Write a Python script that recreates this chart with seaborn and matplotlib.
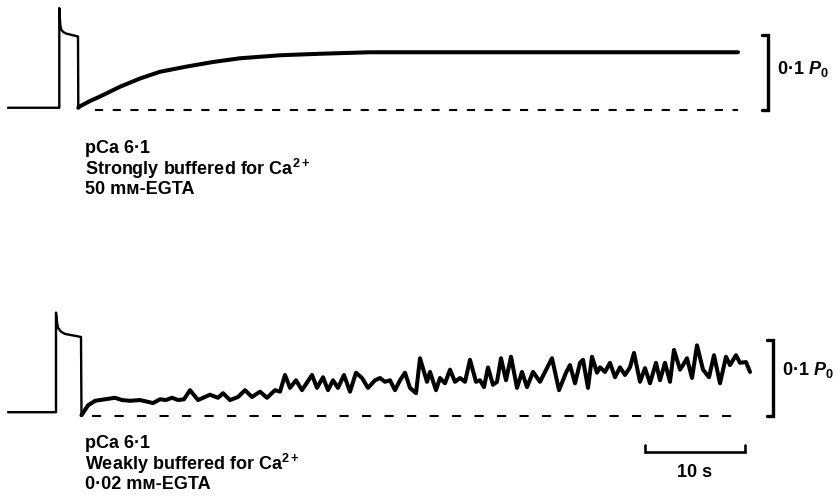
import matplotlib
matplotlib.use("Agg")
import matplotlib.pyplot as plt
import seaborn as sns
import pandas as pd

# ---- Force records (time in s, force as fraction of P0 above the zero-force line) ----
# Strongly buffered, 50 mM EGTA
strong_t = [0.0, 5.13, 5.13, 5.23, 5.33, 5.53, 5.8, 7.0, 7.03,
            7.2, 8.2, 9.2, 11.2, 13.2, 15.2, 17.9, 20.5, 23.2, 27.2, 31.2, 36.2, 44.2, 59.2, 73.0]
strong_f = [0.003, 0.003, 0.136, 0.113, 0.107, 0.104, 0.102, 0.098, 0.003,
            0.005, 0.012, 0.018, 0.031, 0.042, 0.051, 0.058, 0.064, 0.069, 0.073, 0.075, 0.077, 0.077, 0.077, 0.077]
strong_split = 9  # index where the contracture relaxation ends and recovery begins

# Weakly buffered, 0.02 mM EGTA
weak_t = [0.0, 4.8, 4.8, 4.9, 5.0, 5.3, 5.7, 7.3, 7.35,
          7.5, 8.0, 8.7, 9.7, 10.7, 11.4, 12.2, 13.2, 14.2, 14.5, 15.2, 15.8, 16.4, 17.0, 17.6,
          18.2, 19.0, 20.2, 21.0, 21.5, 22.2, 23.0, 23.7, 24.4, 25.2, 25.9, 26.7, 27.2, 27.7,
          28.2, 28.8, 29.4, 30.4, 30.9, 31.5, 32.0, 32.5, 33.0, 33.6, 34.2, 34.8, 35.4, 36.0,
          36.7, 37.2, 37.7, 38.2, 38.7, 39.2, 39.7, 40.2, 40.8, 41.2, 41.9, 42.2, 42.8, 43.2,
          43.7, 44.2, 44.7, 45.2, 45.7, 46.2, 46.8, 47.2, 47.6, 48.0, 48.5, 48.9, 49.3, 49.8,
          50.3, 50.9, 51.4, 51.9, 52.5, 53.2, 54.4, 55.1, 55.8, 56.2, 56.7, 57.2, 57.5, 58.0,
          58.4, 58.9, 59.2, 59.7, 60.2, 60.7, 61.2, 61.7, 62.2, 62.6, 63.2, 63.7, 64.2, 64.8,
          65.2, 65.7, 66.2, 66.6, 67.2, 67.5, 67.9, 68.4, 68.9, 69.5, 70.1, 70.6, 71.2, 71.8,
          72.2, 72.8, 73.2, 73.8, 74.2]
weak_f = [0.005, 0.005, 0.136, 0.124, 0.116, 0.111, 0.108, 0.104, 0.001,
          0.004, 0.014, 0.020, 0.022, 0.024, 0.021, 0.020, 0.021, 0.018, 0.017, 0.022, 0.021, 0.024, 0.021, 0.022,
          0.034, 0.021, 0.028, 0.024, 0.030, 0.021, 0.025, 0.034, 0.025, 0.032, 0.024, 0.034, 0.032, 0.054,
          0.037, 0.047, 0.034, 0.054, 0.037, 0.051, 0.034, 0.047, 0.037, 0.054, 0.032, 0.057, 0.050, 0.037,
          0.047, 0.050, 0.045, 0.047, 0.034, 0.047, 0.057, 0.037, 0.030, 0.076, 0.045, 0.058, 0.034, 0.050,
          0.043, 0.061, 0.045, 0.050, 0.045, 0.074, 0.045, 0.047, 0.038, 0.064, 0.041, 0.045, 0.076, 0.047,
          0.078, 0.037, 0.058, 0.038, 0.058, 0.045, 0.076, 0.034, 0.057, 0.067, 0.043, 0.070, 0.074, 0.037,
          0.078, 0.057, 0.064, 0.058, 0.070, 0.051, 0.064, 0.054, 0.064, 0.083, 0.045, 0.063, 0.043, 0.070,
          0.047, 0.070, 0.045, 0.087, 0.061, 0.067, 0.076, 0.050, 0.093, 0.061, 0.051, 0.080, 0.043, 0.078,
          0.067, 0.080, 0.070, 0.071, 0.058]
weak_split = 9

# Zero-force reference lines
strong_zero_t = [8.7, 73.0]
weak_zero_t = [8.4, 73.2]
zero_f = [0.0, 0.0]

strong_labels = ["pCa 6·1", "Strongly buffered for Ca$^{2+}$", "50 mᴍ-EGTA"]
weak_labels = ["pCa 6·1", "Weakly buffered for Ca$^{2+}$", "0·02 mᴍ-EGTA"]
force_bar = 0.1      # P0
time_bar = 10.0      # s

sns.set_style("white")
plt.rcParams["font.family"] = ["Liberation Sans", "DejaVu Sans"]
plt.rcParams["font.weight"] = "bold"
plt.rcParams["mathtext.fontset"] = "custom"
plt.rcParams["mathtext.rm"] = "Liberation Sans:bold"
plt.rcParams["mathtext.it"] = "Liberation Sans:italic:bold"
plt.rcParams["mathtext.bf"] = "Liberation Sans:bold"

INK = "black"
FS = 13

fig = plt.figure(figsize=(8.4, 5.01), dpi=100)
ax_top = fig.add_axes([0, 1 - 250 / 501, 1, 250 / 501])
ax_bot = fig.add_axes([0, 0, 1, 251 / 501])
ax_top.set_xlim(-0.8, 83.2)
ax_bot.set_xlim(-0.8, 83.2)
ax_top.set_ylim(-0.1867, 0.1467)
ax_bot.set_ylim(-0.1118, 0.2184)


def draw_trace(ax, t, f, split, zero_t, dash):
    df = pd.DataFrame({"t": t, "f": f})
    sns.lineplot(data=df.iloc[:split], x="t", y="f", ax=ax, color=INK, lw=1.7,
                 sort=False, estimator=None, solid_joinstyle="round")
    sns.lineplot(data=df.iloc[split - 1:], x="t", y="f", ax=ax, color=INK, lw=2.9,
                 sort=False, estimator=None, solid_joinstyle="round", solid_capstyle="round")
    zdf = pd.DataFrame({"t": zero_t, "f": zero_f})
    sns.lineplot(data=zdf, x="t", y="f", ax=ax, color=INK, lw=1.5,
                 linestyle=(0, dash), estimator=None)


draw_trace(ax_top, strong_t, strong_f, strong_split, strong_zero_t, (3.9, 4.6))
draw_trace(ax_bot, weak_t, weak_f, weak_split, weak_zero_t, (4.4, 6.4))


def force_bracket(ax, x, hook, label_x, label_y):
    ax.plot([x - hook, x, x, x - hook], [force_bar, force_bar, 0, 0], color=INK, lw=2.4,
            solid_joinstyle="miter", clip_on=False)
    ax.text(label_x, label_y, "0·1 $P_{0}$", fontsize=FS, ha="left", va="center", color=INK)


force_bracket(ax_top, 76.0, 0.6, 76.9, 0.055)
force_bracket(ax_bot, 76.5, 0.6, 77.4, 0.061)

# Time calibration
tb0, tby, tick = 63.7, -0.047, 0.009
ax_bot.plot([tb0, tb0, tb0 + time_bar, tb0 + time_bar], [tby + tick, tby, tby, tby + tick],
            color=INK, lw=1.9, solid_joinstyle="miter", clip_on=False)
ax_bot.text(tb0 + time_bar / 2, -0.080, "10 s", fontsize=FS, ha="center", va="baseline", color=INK)

# Condition captions under each record
ax_top.text(7.7, -0.040, "\n".join(strong_labels), fontsize=FS, ha="left", va="top",
            linespacing=1.0, color=INK)
ax_bot.text(7.7, -0.025, "\n".join(weak_labels), fontsize=FS, ha="left", va="top",
            linespacing=1.0, color=INK)

for ax in (ax_top, ax_bot):
    ax.set_axis_off()
    legend = ax.get_legend()
    if legend is not None:
        legend.remove()

fig.savefig("out.png", dpi=100, facecolor="white")
